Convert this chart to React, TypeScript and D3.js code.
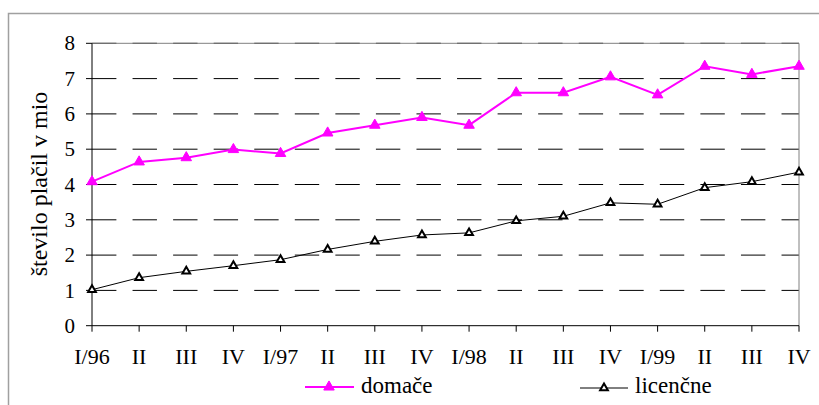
import React from "react";
import * as d3 from "d3";

const categories = ["I/96","II","III","IV","I/97","II","III","IV","I/98","II","III","IV","I/99","II","III","IV"];
const domace = [4.08, 4.64, 4.76, 4.99, 4.88, 5.46, 5.68, 5.9, 5.68, 6.6, 6.6, 7.05, 6.54, 7.35, 7.12, 7.35];
const licencne = [1.02, 1.36, 1.54, 1.7, 1.87, 2.16, 2.39, 2.57, 2.63, 2.97, 3.1, 3.48, 3.44, 3.91, 4.08, 4.35];
const yTicks = [0, 1, 2, 3, 4, 5, 6, 7, 8];
const seriesNames = ["domače", "licenčne"];
const yTitle = "število plačil v mio";

const W = 819, H = 405;
const L = 92, R = 799, T = 43.3, B = 325.7;
const tf: React.CSSProperties = { fontFamily: "'Liberation Serif', serif" };

export default function App() {
  const x = d3.scalePoint<number>().domain(d3.range(categories.length)).range([L, R]);
  const y = d3.scaleLinear().domain([0, 8]).range([B, T]);
  const line = d3.line<number>().x((_, i) => x(i)!).y(d => y(d));
  const triFill = d3.symbol().type(d3.symbolTriangle).size(48)()!;
  const triOpen = d3.symbol().type(d3.symbolTriangle).size(26)()!;

  return (
    <svg width={W} height={H} style={{ position: "absolute", left: 0, top: 0, background: "#fff" }}>
      <rect x={8.5} y={13.5} width={W + 10} height={H + 10} fill="#fff" stroke="#a0a0a0" strokeWidth={1.5} />
      {yTicks.filter(t => t > 0).map(t => (
        <line key={t} x1={L} x2={R} y1={y(t)} y2={y(t)} stroke="#000" strokeWidth={1} strokeDasharray="24.4,16.16" />
      ))}
      <line x1={L} x2={R} y1={T} y2={T} stroke="#808080" strokeWidth={1} />
      <line x1={R} x2={R} y1={T} y2={B} stroke="#808080" strokeWidth={1} />
      <line x1={L} x2={L} y1={T} y2={B} stroke="#000" strokeWidth={1} />
      <line x1={L} x2={R} y1={B} y2={B} stroke="#000" strokeWidth={1} />
      {yTicks.map(t => (
        <g key={t}>
          <line x1={L - 6} x2={L} y1={y(t)} y2={y(t)} stroke="#000" />
          <text x={75} y={y(t)} dy="0.34em" textAnchor="end" fontSize={21} style={tf}>{t}</text>
        </g>
      ))}
      {categories.map((c, i) => (
        <g key={i}>
          <line x1={x(i)} x2={x(i)} y1={B} y2={B + 6} stroke="#000" />
          <text x={x(i)} y={364} textAnchor="middle" fontSize={22} style={tf}>{c}</text>
        </g>
      ))}
      <text transform={`translate(47,184) rotate(-90)`} textAnchor="middle" fontSize={24} style={tf}>{yTitle}</text>
      <path d={line(licencne)!} fill="none" stroke="#000" strokeWidth={1} />
      {licencne.map((v, i) => (
        <path key={i} d={triOpen} transform={`translate(${x(i)},${y(v)})`} fill="#fff" stroke="#000" strokeWidth={2} />
      ))}
      <path d={line(domace)!} fill="none" stroke="#ff00ff" strokeWidth={2} />
      {domace.map((v, i) => (
        <path key={i} d={triFill} transform={`translate(${x(i)},${y(v)})`} fill="#ff00ff" stroke="#ff00ff" strokeWidth={1} />
      ))}
      <line x1={305} x2={354} y1={387} y2={387} stroke="#ff00ff" strokeWidth={2} />
      <path d={triFill} transform="translate(329,387)" fill="#ff00ff" stroke="#ff00ff" />
      <text x={361} y={393} fontSize={23} style={tf}>{seriesNames[0]}</text>
      <line x1={580} x2={628} y1={388} y2={388} stroke="#000" strokeWidth={1} />
      <path d={triOpen} transform="translate(604,388)" fill="#fff" stroke="#000" strokeWidth={2} />
      <text x={635} y={393} fontSize={23} style={tf}>{seriesNames[1]}</text>
    </svg>
  );
}
